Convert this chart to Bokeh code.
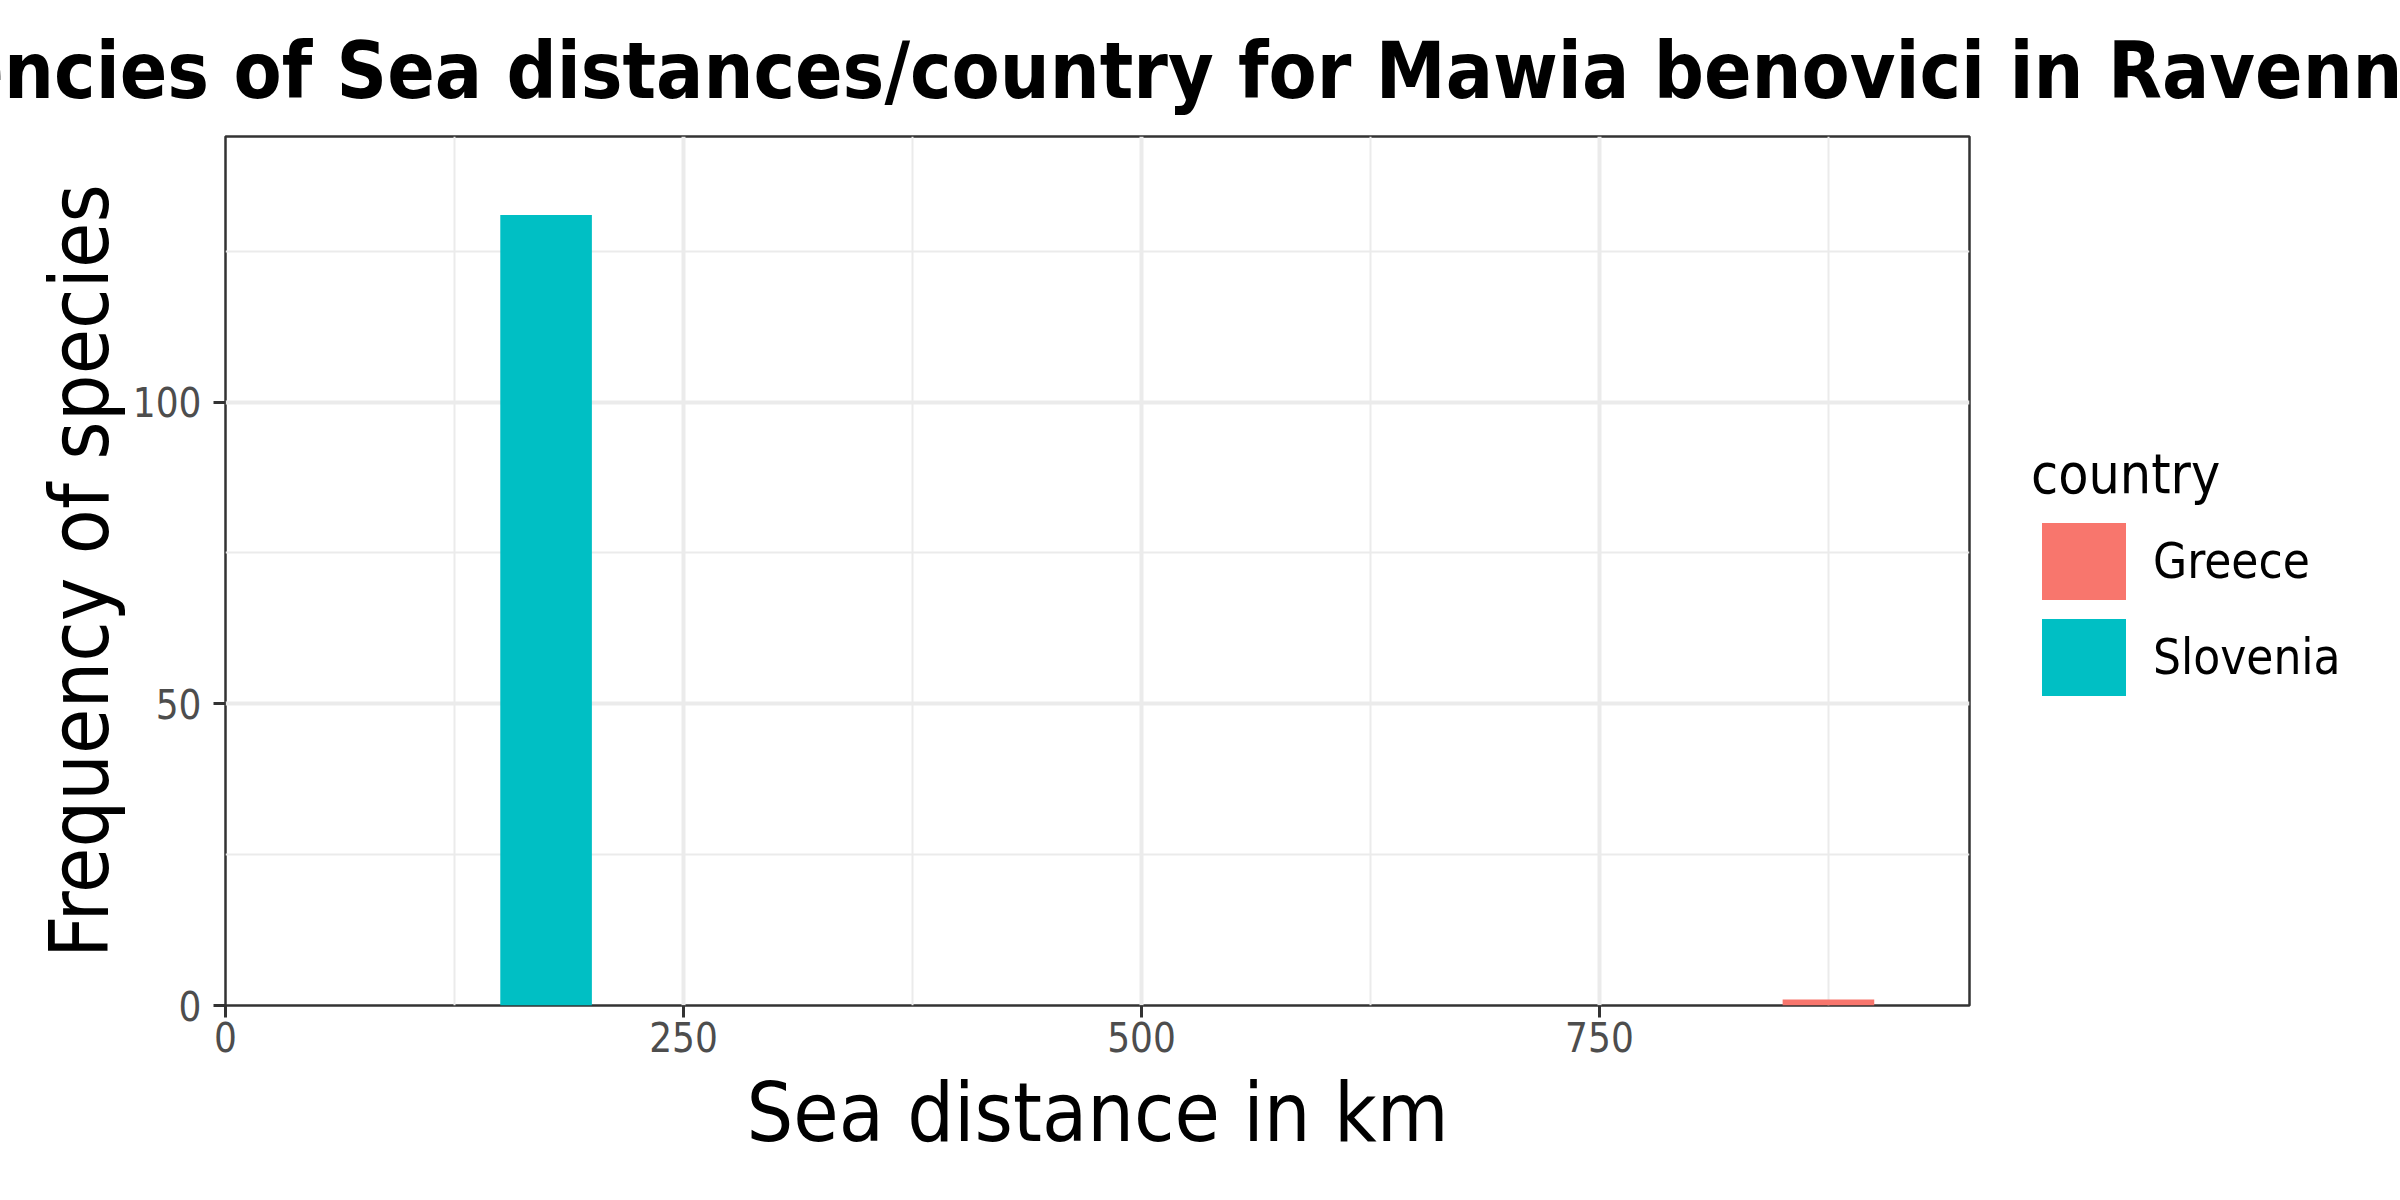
from bokeh.plotting import figure
from bokeh.models import Range1d, FixedTicker, Legend, LegendItem, ColumnDataSource, Label
from bokeh.layouts import column, row
from bokeh.embed import file_html
from bokeh.resources import INLINE

# ---- data (histogram bins) ----
countries = ["Greece", "Slovenia"]
bin_left = [850, 150]
bin_right = [900, 200]
counts = [1, 131]
colors = ["#F8766D", "#00BFC4"]

x_ticks = [0, 250, 500, 750]
x_minor = [125, 375, 625, 875]
y_ticks = [0, 50, 100]
y_minor = [25, 75, 125]

title_text = "Frequencies of Sea distances/country for Mawia benovici in Ravenna"
x_label = "Sea distance in km"
y_label = "Frequency of species"
legend_title = "country"

FONT = "DejaVu Sans Condensed"

# ---------------- title strip ----------------
tf = figure(width=2400, height=134, output_backend="svg", toolbar_location=None,
            x_axis_location=None, y_axis_location=None, min_border=0,
            x_range=Range1d(0, 1), y_range=Range1d(0, 1))
tf.grid.visible = False
tf.outline_line_color = None
tf.background_fill_color = "white"
tf.border_fill_color = "white"
tf.add_layout(Label(x=1090, y=64, x_units="screen", y_units="screen", text=title_text,
                    text_align="center", text_baseline="alphabetic", text_font=FONT,
                    text_font_size="78px", text_font_style="bold", text_color="black"))

# ---------------- main plot ----------------
p = figure(width=2000, height=1066, output_backend="svg", toolbar_location=None,
           x_range=Range1d(0, 952), y_range=Range1d(0, 144),
           min_border_left=225, min_border_right=31, min_border_top=2, min_border_bottom=195)

p.background_fill_color = "white"
p.border_fill_color = "white"
p.outline_line_color = "#333333"
p.outline_line_width = 2.5

xt = FixedTicker(ticks=x_ticks, minor_ticks=x_minor)
yt = FixedTicker(ticks=y_ticks, minor_ticks=y_minor)
p.xaxis.ticker = xt
p.yaxis.ticker = yt
p.xgrid.ticker = xt
p.ygrid.ticker = yt
for g in (p.xgrid, p.ygrid):
    g.grid_line_color = "#EBEBEB"
    g.grid_line_width = 4
    g.minor_grid_line_color = "#EBEBEB"
    g.minor_grid_line_width = 2

for ax in (p.xaxis, p.yaxis):
    ax.axis_line_color = None
    ax.major_tick_line_color = "#333333"
    ax.major_tick_line_width = 3
    ax.major_tick_out = 12
    ax.major_tick_in = 0
    ax.minor_tick_line_color = None
    ax.major_label_text_font = FONT
    ax.major_label_text_font_size = "40px"
    ax.major_label_text_color = "#4D4D4D"
    ax.axis_label_text_font = FONT
    ax.axis_label_text_font_size = "82px"
    ax.axis_label_text_font_style = "normal"
    ax.axis_label_text_color = "black"

p.xaxis.axis_label = x_label
p.yaxis.axis_label = y_label
p.xaxis.major_label_standoff = 4
p.yaxis.major_label_standoff = 12
p.xaxis.axis_label_standoff = 10
p.yaxis.axis_label_standoff = 3

sources = []
for c, l, r, h, col in zip(countries, bin_left, bin_right, counts, colors):
    src = ColumnDataSource(dict(left=[l], right=[r], top=[h], bottom=[0]))
    sources.append(src)
    p.quad(left="left", right="right", top="top", bottom="bottom", source=src,
           fill_color=col, line_color=None)

# ---------------- legend strip ----------------
lf = figure(width=400, height=1066, output_backend="svg", toolbar_location=None,
            x_axis_location=None, y_axis_location=None, min_border=0,
            x_range=Range1d(0, 1), y_range=Range1d(0, 1))
lf.grid.visible = False
lf.outline_line_color = None
lf.background_fill_color = "white"
lf.border_fill_color = "white"

items = []
for c, col, src in zip(countries, colors, sources):
    rr = lf.quad(left="left", right="right", top="top", bottom="bottom", source=src,
                 fill_color=col, line_color=None)
    items.append(LegendItem(label=c, renderers=[rr]))

legend = Legend(items=items, location=(31, 300))
legend.title = legend_title
legend.title_text_font = FONT
legend.title_text_font_size = "55px"
legend.title_text_font_style = "normal"
legend.title_text_color = "black"
legend.title_standoff = 7
legend.label_text_font = FONT
legend.label_text_font_size = "49px"
legend.label_text_color = "black"
legend.label_standoff = 17
legend.glyph_width = 105
legend.glyph_height = 96
legend.label_height = 96
legend.spacing = 0
legend.padding = 0
legend.margin = 0
legend.border_line_color = None
legend.background_fill_alpha = 0
lf.add_layout(legend, "center")

layout = column(tf, row(p, lf, spacing=0), spacing=0)
open("out.html", "w").write(file_html(layout, INLINE))
